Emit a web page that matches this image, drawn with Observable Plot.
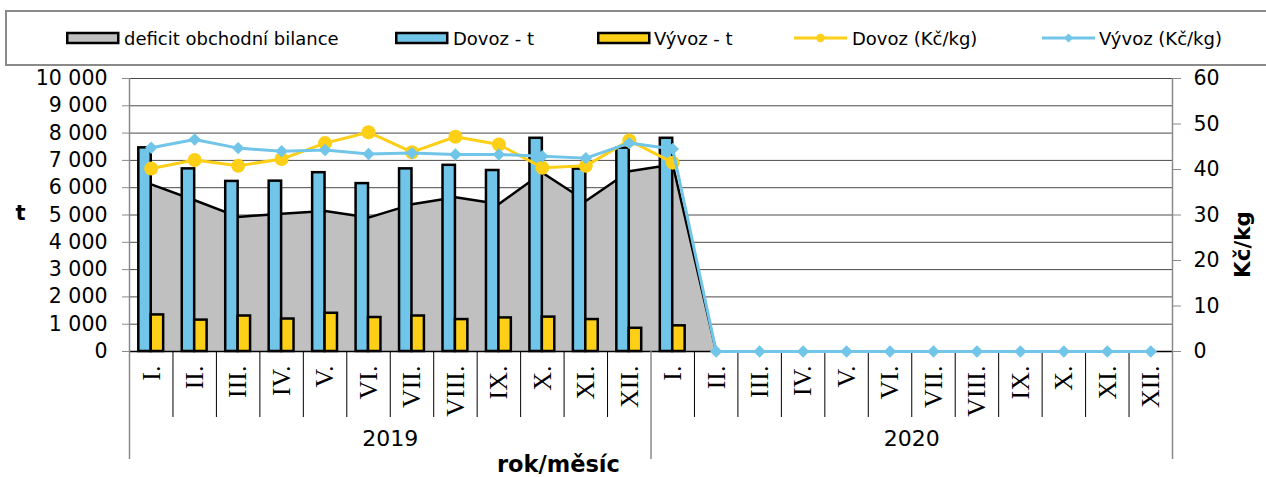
<!DOCTYPE html>
<html>
<head>
<meta charset="utf-8">
<script src="https://cdn.jsdelivr.net/npm/d3@7"></script>
<script src="https://cdn.jsdelivr.net/npm/@observablehq/plot@0.6"></script>
<style>
  html, body { margin: 0; padding: 0; background: white; }
  #wrap { position: relative; width: 1266px; height: 477px; overflow: hidden; font-family: "DejaVu Sans", sans-serif; }
  #legend { position: relative; width: 1266px; height: 70px; font-size: 18px; color: #000; }
  #legend .box { position: absolute; left: 5px; top: 10px; width: 1275px; height: 52px; border: 2px solid #8a8a8a; }
  #legend .item { position: absolute; top: 27px; height: 22px; display: flex; align-items: center; white-space: nowrap; }
  #legend svg { position: absolute; }
  #xtitle { position: absolute; top: 451px; font-weight: bold; font-size: 22.5px; }
</style>
</head>
<body>
<div id="wrap">
  <div id="legend"><div class="box"></div></div>
  <div id="chart"></div>
  <div id="xtitle"></div>
</div>
<script>
// ---- data ----
const months = ["I.", "II.", "III.", "IV.", "V.", "VI.", "VII.", "VIII.", "IX.", "X.", "XI.", "XII."];
const years = ["2019", "2020"];
// Dovoz - t (imports, tonnes)
const dovozT = [7460, 6690, 6230, 6240, 6550, 6150, 6690, 6820, 6630, 7810, 6680, 7450,
                7810, null, null, null, null, null, null, null, null, null, null, null];
// Vývoz - t (exports, tonnes)
const vyvozT = [1340, 1150, 1300, 1190, 1400, 1245, 1300, 1170, 1230, 1260, 1170, 850,
                940, null, null, null, null, null, null, null, null, null, null, null];
// deficit obchodní bilance (t)
const deficit = [6120, 5540, 4930, 5050, 5150, 4905, 5390, 5650, 5400, 6550, 5510, 6600,
                 6850, 0, 0, 0, 0, 0, 0, 0, 0, 0, 0, 0];
// Dovoz (Kč/kg)
const dovozKc = [40.2, 42.1, 40.8, 42.3, 45.8, 48.2, 43.8, 47.2, 45.5, 40.4, 40.8, 46.4,
                 41.5, null, null, null, null, null, null, null, null, null, null, null];
// Vývoz (Kč/kg)
const vyvozKc = [44.8, 46.6, 44.7, 44.0, 44.3, 43.4, 43.6, 43.3, 43.3, 42.9, 42.5, 45.8,
                 44.5, 0, 0, 0, 0, 0, 0, 0, 0, 0, 0, 0];
const leftTicks = [0, 1000, 2000, 3000, 4000, 5000, 6000, 7000, 8000, 9000, 10000];
const rightTicks = [0, 10, 20, 30, 40, 50, 60];
const legendLabels = ["deficit obchodní bilance", "Dovoz - t", "Vývoz - t", "Dovoz (Kč/kg)", "Vývoz (Kč/kg)"];

// ---- styles ----
const GRAY = "#C0C0C0", BLUE = "#71C5E8", YELLOW = "#FDD017";
const k = 10000 / 60; // right axis (Kč/kg) to left axis (t) ratio

const rows = d3.range(24).map(i => ({
  i, month: months[i % 12], year: years[Math.floor(i / 12)],
  dovozT: dovozT[i], vyvozT: vyvozT[i], deficit: deficit[i],
  dovozKc: dovozKc[i], vyvozKc: vyvozKc[i]
}));
const fmt = d => d3.format(",")(d).replace(/,/g, " ");
const mid = d => d.i + 0.5;

const chart = Plot.plot({
  width: 1266, height: 407,
  marginLeft: 129, marginRight: 94, marginTop: 8, marginBottom: 126,
  x: {domain: [0, 24], axis: null},
  y: {domain: [0, 10000], axis: null},
  style: {fontFamily: "DejaVu Sans", fontSize: "20px", color: "black", background: "white", overflow: "visible"},
  marks: [
    Plot.ruleY(leftTicks.filter(d => d > 0), {stroke: "#4a4a4a", strokeWidth: 1}),
    Plot.areaY(rows, {x: mid, y: "deficit", fill: GRAY}),
    Plot.lineY(rows, {x: mid, y: "deficit", stroke: "black", strokeWidth: 2.5}),
    Plot.rectY(rows.filter(d => d.dovozT != null), {x1: "i", x2: d => d.i + 1, y: "dovozT", fill: BLUE, stroke: "black", strokeWidth: 2.5, insetLeft: 9.3, insetRight: 21.73}),
    Plot.rectY(rows.filter(d => d.vyvozT != null), {x1: "i", x2: d => d.i + 1, y: "vyvozT", fill: YELLOW, stroke: "black", strokeWidth: 2.5, insetLeft: 21.73, insetRight: 9.3}),
    Plot.ruleY([0], {stroke: "black", strokeWidth: 1.5}),
    // axis lines and category separators
    Plot.ruleX([0, 24], {stroke: "#8a8a8a", strokeWidth: 1.5, insetBottom: -108}),
    Plot.ruleX([12], {stroke: "#8a8a8a", strokeWidth: 1.5, insetTop: 273, insetBottom: -108}),
    Plot.ruleX(d3.range(1, 24).filter(d => d !== 12), {stroke: "black", strokeWidth: 1, insetTop: 273, insetBottom: -66}),
    // lines Kč/kg
    Plot.lineY(rows, {x: mid, y: d => d.dovozKc == null ? null : d.dovozKc * k, stroke: YELLOW, strokeWidth: 3}),
    Plot.dot(rows.filter(d => d.dovozKc != null), {x: mid, y: d => d.dovozKc * k, r: 7, fill: YELLOW, symbol: "circle"}),
    Plot.lineY(rows, {x: mid, y: d => d.vyvozKc * k, stroke: BLUE, strokeWidth: 3}),
    Plot.dot(rows, {x: mid, y: d => d.vyvozKc * k, r: 5.6, fill: BLUE, symbol: "diamond2"}),
    // axes
    Plot.axisY(leftTicks, {anchor: "left", tickSize: 7, tickPadding: 15, tickFormat: fmt, stroke: "#8a8a8a", fill: "black", fontSize: 20.5}),
    Plot.axisY(rightTicks.map(v => v * k), {anchor: "right", tickSize: 8, tickPadding: 13, tickFormat: d => String(Math.round(d / k)), stroke: "#8a8a8a", fill: "black", fontSize: 20.5}),
    Plot.text(rows, {x: mid, text: "month", frameAnchor: "bottom", rotate: -90, textAnchor: "end", lineAnchor: "middle", dy: 14, fontFamily: "Liberation Serif", fontSize: 26, fill: "black"}),
    Plot.text(years, {x: (d, i) => i * 12 + 6, text: d => d, frameAnchor: "bottom", dy: 94, fontSize: 22, fill: "black"}),
    Plot.text(["t"], {frameAnchor: "left", dx: -114, dy: -2, fontWeight: "bold", fontSize: 21, fill: "black"}),
    Plot.text(["Kč/kg"], {frameAnchor: "right", dx: 71, dy: -4, rotate: -90, fontWeight: "bold", fontSize: 21.5, fill: "black"})
  ]
});
document.getElementById("chart").appendChild(chart);

// x title
const xt = document.getElementById("xtitle");
xt.textContent = "rok/měsíc";
xt.style.left = "497px";

// ---- legend ----
const legend = document.getElementById("legend");
const legendItems = [
  {label: legendLabels[0], kind: "rect", color: GRAY, sx: 66, tx: 124},
  {label: legendLabels[1], kind: "rect", color: BLUE, sx: 395, tx: 453},
  {label: legendLabels[2], kind: "rect", color: YELLOW, sx: 597, tx: 654},
  {label: legendLabels[3], kind: "line", color: YELLOW, sym: "circle", sx: 794, tx: 852},
  {label: legendLabels[4], kind: "line", color: BLUE, sym: "diamond", sx: 1042, tx: 1099}
];
const NS = "http://www.w3.org/2000/svg";
for (const it of legendItems) {
  const s = document.createElementNS(NS, "svg");
  s.setAttribute("width", 56); s.setAttribute("height", 16);
  s.style.left = it.sx + "px"; s.style.top = "30px";
  if (it.kind === "rect") {
    const r = document.createElementNS(NS, "rect");
    r.setAttribute("x", 1.25); r.setAttribute("y", 3); r.setAttribute("width", 51); r.setAttribute("height", 10);
    r.setAttribute("fill", it.color); r.setAttribute("stroke", "black"); r.setAttribute("stroke-width", 2.5);
    s.appendChild(r);
  } else {
    const l = document.createElementNS(NS, "line");
    l.setAttribute("x1", 0); l.setAttribute("x2", 53); l.setAttribute("y1", 8); l.setAttribute("y2", 8);
    l.setAttribute("stroke", it.color); l.setAttribute("stroke-width", 3);
    s.appendChild(l);
    if (it.sym === "circle") {
      const c = document.createElementNS(NS, "circle");
      c.setAttribute("cx", 26.5); c.setAttribute("cy", 8); c.setAttribute("r", 4.2); c.setAttribute("fill", it.color);
      s.appendChild(c);
    } else {
      const p = document.createElementNS(NS, "path");
      p.setAttribute("d", "M26.5,3.5L31,8L26.5,12.5L22,8Z"); p.setAttribute("fill", it.color);
      s.appendChild(p);
    }
  }
  legend.appendChild(s);
  const t = document.createElement("div");
  t.className = "item"; t.style.left = it.tx + "px"; t.textContent = it.label;
  legend.appendChild(t);
}
</script>
</body>
</html>
